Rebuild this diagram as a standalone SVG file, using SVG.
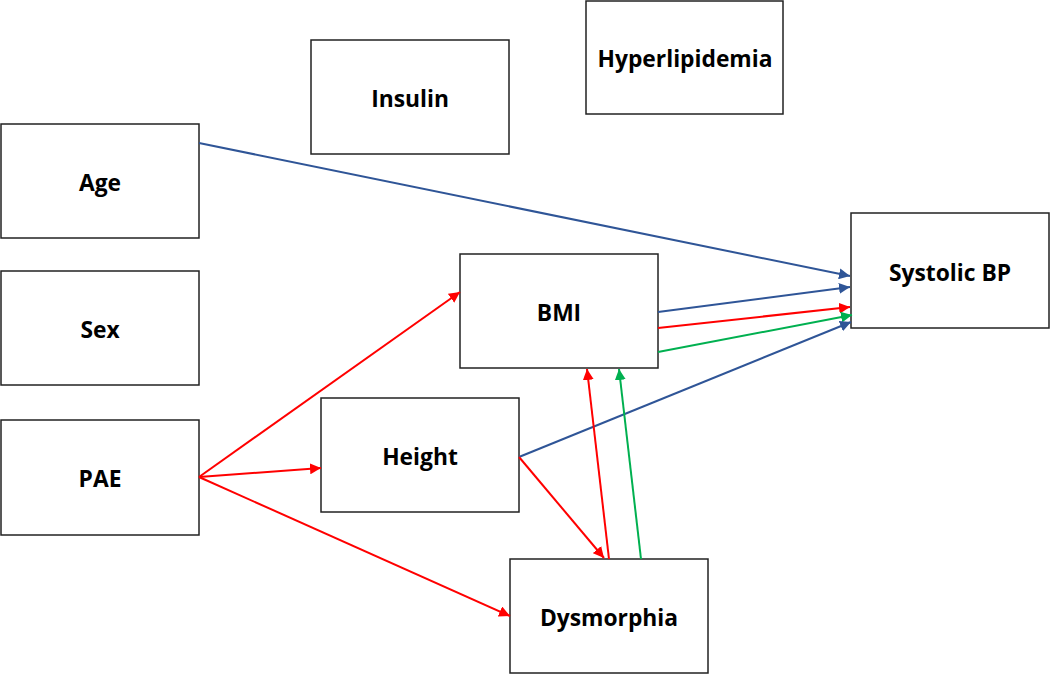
<svg xmlns="http://www.w3.org/2000/svg" width="1050" height="675" viewBox="0 0 1050 675">
<style>
.box{fill:#fff;stroke:#222;stroke-width:1.5}
.lbl{font-family:"Open Sans","Liberation Sans",sans-serif;font-weight:bold;font-size:22.8px;fill:#000;text-anchor:middle;dominant-baseline:central}
.b{stroke:#2F5597;stroke-width:2;fill:none}
.r{stroke:#FF0000;stroke-width:2;fill:none}
.g{stroke:#00B050;stroke-width:2;fill:none}
</style>
<defs>
<marker id="ab" viewBox="0 0 10 10" refX="10" refY="5" markerWidth="5.5" markerHeight="5.5" orient="auto" markerUnits="strokeWidth"><path d="M0,0L10,5L0,10z" fill="#2F5597"/></marker>
<marker id="ar" viewBox="0 0 10 10" refX="10" refY="5" markerWidth="5.5" markerHeight="5.5" orient="auto" markerUnits="strokeWidth"><path d="M0,0L10,5L0,10z" fill="#FF0000"/></marker>
<marker id="ag" viewBox="0 0 10 10" refX="10" refY="5" markerWidth="5.5" markerHeight="5.5" orient="auto" markerUnits="strokeWidth"><path d="M0,0L10,5L0,10z" fill="#00B050"/></marker>
</defs>
<rect width="1050" height="675" fill="#fff"/>
<g id="age"><rect class="box" x="1" y="124" width="198" height="114"/><text class="lbl" x="100" y="182">Age</text></g>
<g id="insulin"><rect class="box" x="311" y="40" width="198" height="114"/><text class="lbl" x="410" y="98">Insulin</text></g>
<g id="hyperlipidemia"><rect class="box" x="586" y="1" width="197" height="113"/><text class="lbl" x="685" y="58">Hyperlipidemia</text></g>
<g id="sex"><rect class="box" x="1" y="271" width="198" height="114"/><text class="lbl" x="100" y="329">Sex</text></g>
<g id="pae"><rect class="box" x="1" y="420" width="198" height="115"/><text class="lbl" x="100" y="478">PAE</text></g>
<g id="bmi"><rect class="box" x="460" y="254" width="198" height="114"/><text class="lbl" x="559" y="312">BMI</text></g>
<g id="height"><rect class="box" x="321" y="398" width="198" height="114"/><text class="lbl" x="420" y="456">Height</text></g>
<g id="dysmorphia"><rect class="box" x="510" y="559" width="198" height="114"/><text class="lbl" x="609" y="617">Dysmorphia</text></g>
<g id="systolic"><rect class="box" x="851" y="213" width="198" height="115"/><text class="lbl" x="950" y="272">Systolic BP</text></g>
<g id="connectors">
<line class="b" x1="199" y1="143" x2="850" y2="276" marker-end="url(#ab)"/>
<line class="b" x1="658" y1="312" x2="850" y2="287" marker-end="url(#ab)"/>
<line class="r" x1="658" y1="328" x2="850" y2="307" marker-end="url(#ar)"/>
<line class="g" x1="658" y1="352" x2="852" y2="315" marker-end="url(#ag)"/>
<line class="b" x1="519" y1="457" x2="851" y2="322" marker-end="url(#ab)"/>
<line class="r" x1="199" y1="477" x2="460" y2="292" marker-end="url(#ar)"/>
<line class="r" x1="199" y1="477" x2="321" y2="468" marker-end="url(#ar)"/>
<line class="r" x1="199" y1="477" x2="510" y2="616" marker-end="url(#ar)"/>
<line class="r" x1="519" y1="457" x2="604" y2="558" marker-end="url(#ar)"/>
<line class="r" x1="609" y1="559" x2="587" y2="369" marker-end="url(#ar)"/>
<line class="g" x1="641" y1="559" x2="619" y2="369" marker-end="url(#ag)"/>
</g>
</svg>
